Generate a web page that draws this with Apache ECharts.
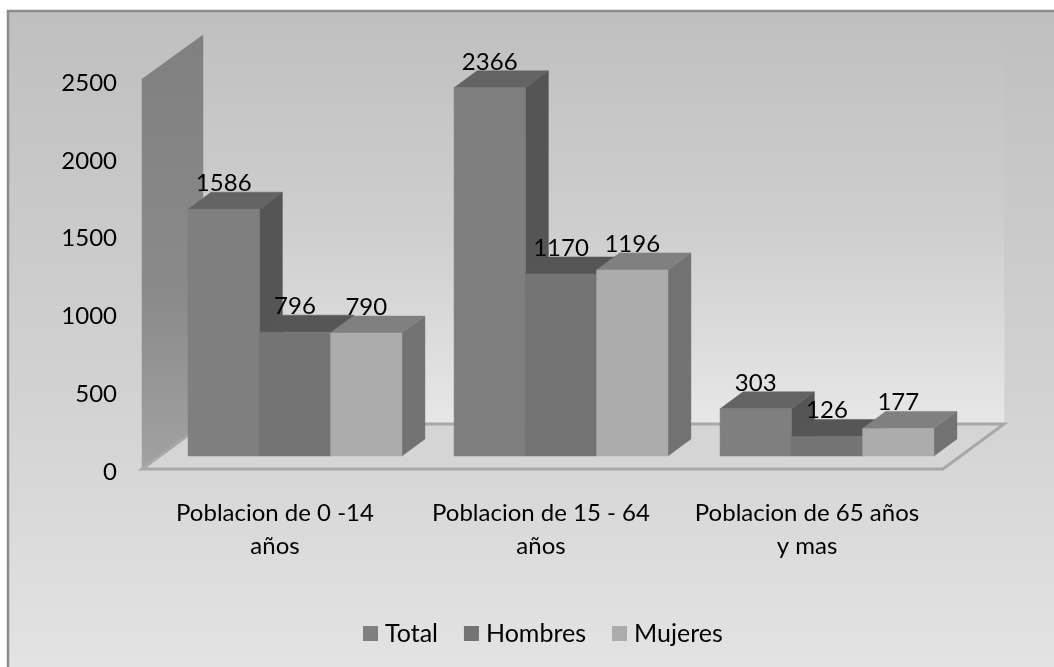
<!DOCTYPE html>
<html>
<head>
<meta charset="utf-8">
<style>
  html, body { margin: 0; padding: 0; background: #fff; }
  #chart { width: 1054px; height: 667px; }
</style>
<script src="https://cdn.jsdelivr.net/npm/echarts@6/dist/echarts.min.js"></script>
</head>
<body>
<div id="chart"></div>
<script>
const categories = ['Poblacion de 0 -14\naños', 'Poblacion de 15 - 64\naños', 'Poblacion de 65 años\ny mas'];
const total = [1586, 2366, 303];
const hombres = [796, 1170, 126];
const mujeres = [790, 1196, 177];
const yTicks = [0, 500, 1000, 1500, 2000, 2500];

const chart = echarts.init(document.getElementById('chart'));
const fontFamily = 'Lato';
const textColor = '#000';
const wallDx = 61;
const wallDy = -44;
const barDx = 23;
const barDy = -17;
// bars stand part way into the floor, not on the front edge
const planeDx = 20;
const planeDy = -12;
const barRatio = 0.268;

function poly(points, fill, z2) {
  return { type: 'polygon', shape: { points: points }, z2: z2 || 0, style: { fill: fill, stroke: fill, lineWidth: 0.5 } };
}

function renderWalls(params, api) {
  const c = params.coordSys;
  const left = c.x;
  const right = c.x + c.width + 3;
  const top = c.y;
  const bottom = c.y + c.height;
  const backGradient = new echarts.graphic.LinearGradient(0, 0, 0, 1, [
    { offset: 0, color: '#c1c1c1' },
    { offset: 0.5, color: '#cecece' },
    { offset: 1, color: '#e7e7e7' }
  ]);
  const sideGradient = new echarts.graphic.LinearGradient(0, 0, 0, 1, [
    { offset: 0, color: '#808080' },
    { offset: 0.6, color: '#8a8a8a' },
    { offset: 1, color: '#a2a2a2' }
  ]);
  return {
    type: 'group',
    children: [
      poly([[left + wallDx, top + wallDy], [right + wallDx, top + wallDy], [right + wallDx, bottom + wallDy], [left + wallDx, bottom + wallDy]], backGradient),
      poly([[left, top], [left + wallDx, top + wallDy], [left + wallDx, bottom + wallDy], [left, bottom]], sideGradient),
      {
        type: 'polygon',
        shape: { points: [[left, bottom + 1], [left + wallDx, bottom + wallDy], [right + wallDx, bottom + wallDy], [right, bottom + 1]] },
        style: { fill: '#d5d5d5', stroke: '#a8a8a8', lineWidth: 3 }
      }
    ]
  };
}

function makeBarRender(barIndex, front, topFace, side) {
  return function (params, api) {
    const cat = api.value(0);
    const val = api.value(1);
    const band = api.size([1, 0])[0];
    const w = band * barRatio;
    const center = api.coord([cat, 0])[0];
    const x0 = center + planeDx - 1.5 * w + barIndex * w;
    const x1 = x0 + w;
    const yBase = api.coord([cat, 0])[1] + planeDy;
    const yTop = api.coord([cat, val])[1] + planeDy;
    return {
      type: 'group',
      children: [
        poly([[x1, yTop], [x1 + barDx, yTop + barDy], [x1 + barDx, yBase + barDy], [x1, yBase]], side),
        poly([[x0, yTop], [x0 + barDx, yTop + barDy], [x1 + barDx, yTop + barDy], [x1, yTop]], topFace),
        poly([[x0, yTop], [x1, yTop], [x1, yBase], [x0, yBase]], front),
        {
          type: 'text',
          z2: 50,
          style: {
            text: String(val),
            x: (x0 + x1) / 2,
            y: yTop - 26,
            align: 'center',
            verticalAlign: 'middle',
            fontFamily: fontFamily,
            fontSize: 24,
            fill: textColor
          }
        }
      ]
    };
  };
}

function barSeries(name, values, barIndex, front, topFace, side) {
  return {
    type: 'custom',
    name: name,
    clip: false,
    z: 5 + barIndex,
    itemStyle: { color: front },
    encode: { x: 0, y: 1 },
    data: values.map((v, i) => [i, v]),
    renderItem: makeBarRender(barIndex, front, topFace, side)
  };
}

chart.setOption({
  animation: false,
  backgroundColor: '#ffffff',
  graphic: [
    {
      type: 'rect',
      z: -10,
      shape: { x: 8, y: 11, width: 1060, height: 670 },
      style: {
        fill: new echarts.graphic.LinearGradient(0, 0, 0, 1, [
          { offset: 0, color: '#bfbfbf' },
          { offset: 0.6, color: '#d3d3d3' },
          { offset: 1, color: '#e4e4e4' }
        ]),
        stroke: '#8c8c8c',
        lineWidth: 2.5
      }
    }
  ],
  grid: { left: 142, top: 79, width: 798, height: 389 },
  legend: {
    left: 358,
    top: 616,
    itemWidth: 15,
    itemHeight: 15,
    itemGap: 26,
    icon: 'rect',
    data: ['Total', 'Hombres', 'Mujeres'],
    textStyle: { fontFamily: fontFamily, fontSize: 25, color: textColor, padding: [0, 0, 0, 2] }
  },
  xAxis: {
    type: 'category',
    data: categories,
    axisLine: { show: false },
    axisTick: { show: false },
    axisLabel: { fontFamily: fontFamily, fontSize: 24, lineHeight: 33, color: textColor, margin: 29, interval: 0 }
  },
  yAxis: {
    type: 'value',
    min: yTicks[0],
    max: yTicks[yTicks.length - 1],
    interval: yTicks[1] - yTicks[0],
    axisLine: { show: false },
    axisTick: { show: false },
    splitLine: { show: false },
    axisLabel: {
      fontFamily: fontFamily,
      fontSize: 24,
      color: textColor,
      margin: 25,
      // small line box aligned from the top: labels sit a little below their tick
      verticalAlign: 'top',
      lineHeight: 8,
      formatter: value => String(value)
    }
  },
  series: [
    { type: 'custom', z: 1, clip: false, silent: true, encode: { x: 0, y: 1 }, data: [[0, 0]], renderItem: renderWalls },
    barSeries('Total', total, 0, '#7f7f7f', '#636363', '#555555'),
    barSeries('Hombres', hombres, 1, '#747474', '#565656', '#5c5c5c'),
    barSeries('Mujeres', mujeres, 2, '#acacac', '#808080', '#727272')
  ]
});

window.onresize = function () {
  chart.resize();
};
</script>
</body>
</html>
